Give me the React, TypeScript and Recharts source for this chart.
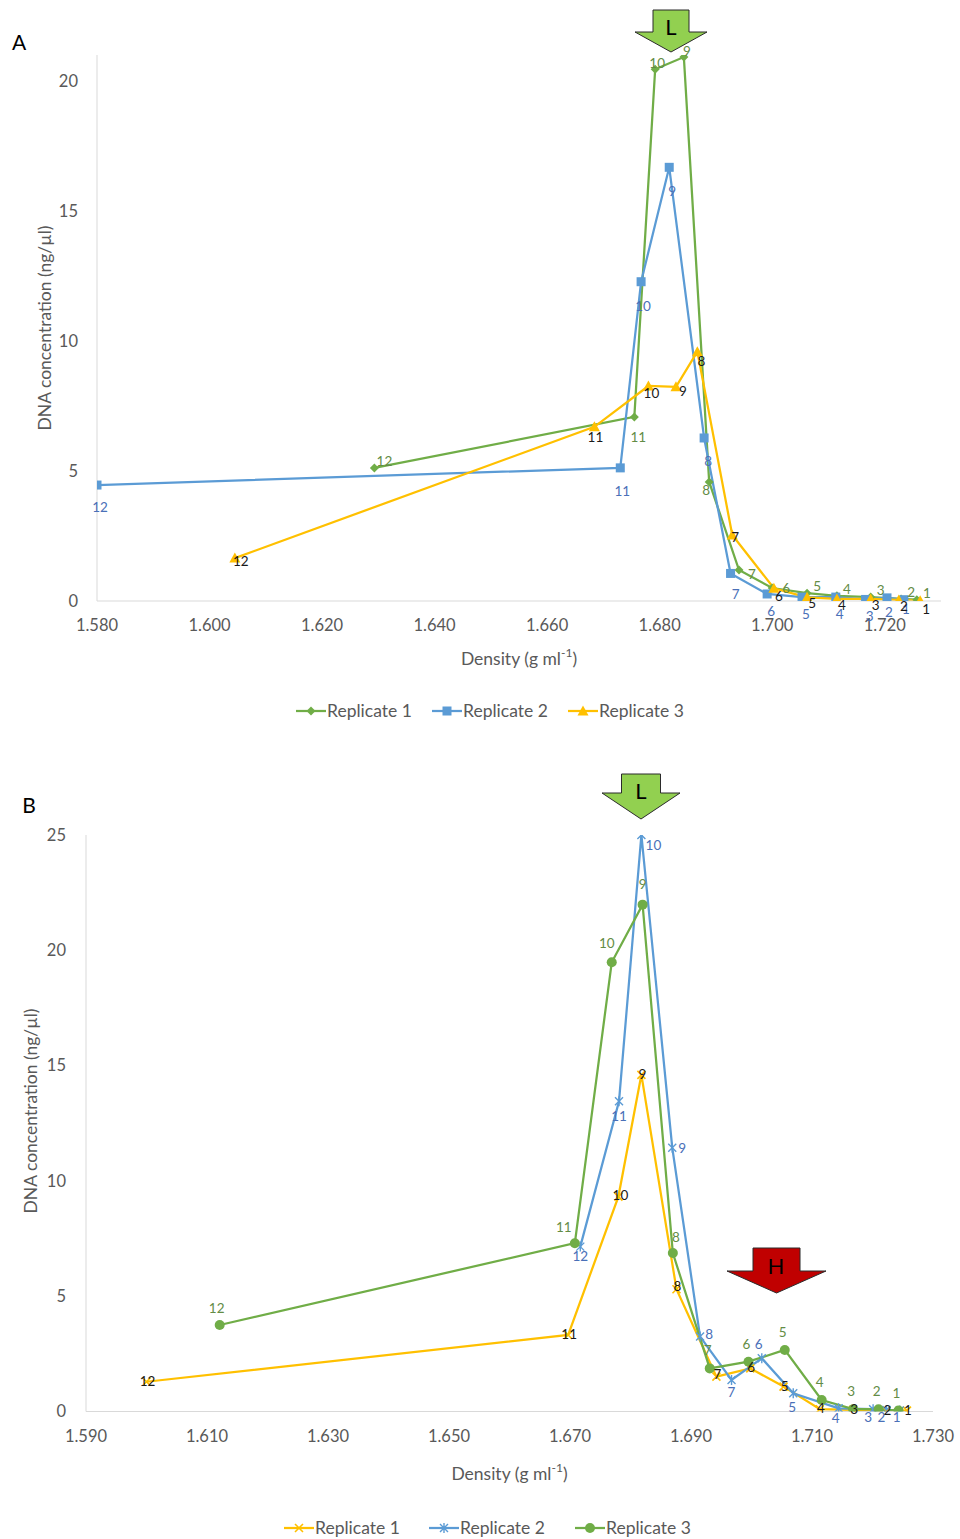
import React from 'react';
import { LineChart, Line, XAxis, YAxis, LabelList, Label } from 'recharts';

// ---------- DATA ----------
const fractions = [12, 11, 10, 9, 8, 7, 6, 5, 4, 3, 2, 1];

// Panel A
const aDensityRep1 = [1.6293, 1.6755, 1.6792, 1.6843, 1.6888, 1.6941, 1.7, 1.7062, 1.7115, 1.7175, 1.7229, 1.7257];
const aConcRep1 = [5.12, 7.08, 20.45, 20.92, 4.58, 1.19, 0.5, 0.3, 0.2, 0.15, 0.08, 0.05];
const aDensityRep2 = [1.58, 1.673, 1.6767, 1.6817, 1.6879, 1.6926, 1.6991, 1.7053, 1.7113, 1.7166, 1.7204, 1.7234];
const aConcRep2 = [4.46, 5.12, 12.28, 16.68, 6.27, 1.06, 0.27, 0.15, 0.15, 0.06, 0.12, 0.05];
const aDensityRep3 = [1.6045, 1.6684, 1.678, 1.6829, 1.6867, 1.6929, 1.7003, 1.7062, 1.7115, 1.7175, 1.7225, 1.7263];
const aConcRep3 = [1.65, 6.7, 8.27, 8.24, 9.59, 2.54, 0.49, 0.14, 0.08, 0.08, 0.04, 0.01];
const aXTicks = [1.58, 1.6, 1.62, 1.64, 1.66, 1.68, 1.7, 1.72];
const aYTicks = [0, 5, 10, 15, 20];

// Panel B
const bDensityRep1 = [1.6, 1.6697, 1.678, 1.6818, 1.6876, 1.6942, 1.6998, 1.7053, 1.7113, 1.7168, 1.7223, 1.7257];
const bConcRep1 = [1.29, 3.32, 9.32, 14.6, 5.3, 1.51, 1.87, 1.08, 0.1, 0.07, 0.04, 0.04];
const bDensityRep2 = [1.6717, 1.6781, 1.6818, 1.6869, 1.6915, 1.6967, 1.7017, 1.7069, 1.7144, 1.7201, 1.7223, 1.7245];
const bConcRep2 = [7.15, 13.45, 25.0, 11.44, 3.25, 1.37, 2.31, 0.79, 0.14, 0.1, 0.06, 0.04];
const bDensityRep3 = [1.6121, 1.6708, 1.6769, 1.682, 1.687, 1.6931, 1.6995, 1.7055, 1.7116, 1.7168, 1.721, 1.7243];
const bConcRep3 = [3.75, 7.3, 19.48, 21.98, 6.87, 1.87, 2.16, 2.67, 0.5, 0.1, 0.1, 0.04];
const bXTicks = [1.59, 1.61, 1.63, 1.65, 1.67, 1.69, 1.71, 1.73];
const bYTicks = [0, 5, 10, 15, 20, 25];

const seriesNames = ['Replicate 1', 'Replicate 2', 'Replicate 3'];

// ---------- STYLE ----------
const FONT = 'Lato, "Open Sans", sans-serif';
const GREEN = '#70AD47';
const BLUE = '#5B9BD5';
const YELLOW = '#FFC000';
const GREEN_TXT = '#638C45';
const BLUE_TXT = '#4A70B8';
const BLACK_TXT = '#1a1a1a';
const AXIS_TXT = '#595959';
const AXIS_LINE = '#D9D9D9';

const build = (xs: number[], ys: number[]) => xs.map((x, i) => ({ x, y: ys[i], f: fractions[i] }));

type Shape = 'diamond' | 'square' | 'triangle' | 'xmark' | 'star' | 'circle';

const markerEl = (shape: Shape, cx: number, cy: number, color: string, key?: string) => {
  switch (shape) {
    case 'diamond':
      return <path key={key} d={`M${cx},${cy - 4.5}L${cx + 4.5},${cy}L${cx},${cy + 4.5}L${cx - 4.5},${cy}Z`} fill={color} />;
    case 'square':
      return <rect key={key} x={cx - 4.5} y={cy - 4.5} width={9} height={9} fill={color} />;
    case 'triangle':
      return <path key={key} d={`M${cx},${cy - 5.5}L${cx + 5.5},${cy + 4.5}L${cx - 5.5},${cy + 4.5}Z`} fill={color} />;
    case 'xmark':
      return (
        <path key={key} d={`M${cx - 4},${cy - 4}L${cx + 4},${cy + 4}M${cx - 4},${cy + 4}L${cx + 4},${cy - 4}`} stroke={color} strokeWidth={1.6} fill="none" />
      );
    case 'star':
      return (
        <path key={key} d={`M${cx - 4},${cy - 4}L${cx + 4},${cy + 4}M${cx - 4},${cy + 4}L${cx + 4},${cy - 4}M${cx},${cy - 5}L${cx},${cy + 5}`} stroke={color} strokeWidth={1.4} fill="none" />
      );
    case 'circle':
    default:
      return <circle key={key} cx={cx} cy={cy} r={5} fill={color} />;
  }
};

const makeDot = (shape: Shape, color: string) => (props: any) => {
  const { cx, cy, index } = props;
  if (cx == null || cy == null) return <g key={`e-${index}`} />;
  return markerEl(shape, cx, cy, color, `d-${shape}-${index}`);
};

type Off = [number, number];
const makeLabel = (color: string, def: Off, overrides: Record<number, Off>) => (props: any) => {
  const { x, y, value, index } = props;
  if (x == null || y == null) return null;
  const o = overrides[value] || def;
  return (
    <text key={`l-${index}`} x={x + o[0]} y={y + o[1]} textAnchor="middle" dominantBaseline="central" fill={color} fontSize={13.5} fontFamily={FONT}>
      {value}
    </text>
  );
};

const yTitle = (cxOff: number, cy: number) => (props: any) => {
  const vb = props.viewBox || {};
  const x = (vb.x || 0) + cxOff;
  return (
    <text x={x} y={cy} transform={`rotate(-90 ${x} ${cy})`} textAnchor="middle" dominantBaseline="central" fill={AXIS_TXT} fontSize={17.5} fontFamily={FONT}>
      DNA concentration (ng/µl)
    </text>
  );
};

const xTitle = (dy: number) => (props: any) => {
  const vb = props.viewBox || {};
  const x = (vb.x || 0) + (vb.width || 0) / 2;
  const y = (vb.y || 0) + dy;
  return (
    <text x={x} y={y} textAnchor="middle" dominantBaseline="central" fill={AXIS_TXT} fontSize={17.5} fontFamily={FONT}>
      Density (g ml
      <tspan fontSize={12} dy={-6}>-1</tspan>
      <tspan dy={6}>)</tspan>
    </text>
  );
};

const tickStyle = { fill: AXIS_TXT, fontSize: 16.5, fontFamily: FONT };

const LegendItem = ({ left, shape, color, label }: { left: number; shape: Shape; color: string; label: string }) => (
  <div style={{ position: 'absolute', left, top: 0, display: 'flex', alignItems: 'center', height: 20 }}>
    <svg width={30} height={20} style={{ display: 'block' }}>
      <line x1={0} y1={10} x2={30} y2={10} stroke={color} strokeWidth={2.25} />
      {markerEl(shape, 15, 10, color)}
    </svg>
    <span style={{ marginLeft: 1, fontFamily: FONT, fontSize: 17.5, color: AXIS_TXT, whiteSpace: 'nowrap', lineHeight: '20px' }}>{label}</span>
  </div>
);

const downArrow = (cx: number, top: number, headY: number, tip: number, shaftHalf: number, headHalf: number) =>
  `M${cx - shaftHalf},${top}L${cx + shaftHalf},${top}L${cx + shaftHalf},${headY}L${cx + headHalf},${headY}L${cx},${tip}L${cx - headHalf},${headY}L${cx - shaftHalf},${headY}Z`;

export default function App() {
  const aR1 = build(aDensityRep1, aConcRep1);
  const aR2 = build(aDensityRep2, aConcRep2);
  const aR3 = build(aDensityRep3, aConcRep3);
  const bR1 = build(bDensityRep1, bConcRep1);
  const bR2 = build(bDensityRep2, bConcRep2);
  const bR3 = build(bDensityRep3, bConcRep3);

  const lineW = 2.25;

  return (
    <div style={{ position: 'absolute', left: 0, top: 0, width: 960, height: 1539, background: '#fff', overflow: 'hidden' }}>
      {/* Panel A */}
      <div style={{ position: 'absolute', left: 0, top: 0 }}>
        <LineChart width={960} height={690} margin={{ top: 55, right: 19, left: 37, bottom: 59 }}>
          <XAxis
            type="number"
            dataKey="x"
            domain={[1.58, 1.73]}
            ticks={aXTicks}
            allowDataOverflow
            tickFormatter={(v: number) => v.toFixed(3)}
            tick={tickStyle}
            tickLine={false}
            tickSize={0}
            tickMargin={18}
            stroke={AXIS_LINE}
            height={30}
          >
            <Label content={xTitle(57)} />
          </XAxis>
          <YAxis
            type="number"
            domain={[0, 21]}
            ticks={aYTicks}
            allowDataOverflow
            tick={tickStyle}
            tickLine={false}
            tickSize={0}
            tickMargin={19}
            stroke={AXIS_LINE}
            width={60}
          >
            <Label content={yTitle(7, 328)} />
          </YAxis>
          <Line data={aR1} dataKey="y" name={seriesNames[0]} stroke={GREEN} strokeWidth={lineW} dot={makeDot('diamond', GREEN)} activeDot={false} isAnimationActive={false}>
            <LabelList dataKey="f" content={makeLabel(GREEN_TXT, [10, -7], { 11: [4, 20], 8: [-3, 8], 10: [2, -6], 9: [3, -6], 7: [13, 4], 6: [14, 0] })} />
          </Line>
          <Line data={aR2} dataKey="y" name={seriesNames[1]} stroke={BLUE} strokeWidth={lineW} dot={makeDot('square', BLUE)} activeDot={false} isAnimationActive={false}>
            <LabelList dataKey="f" content={makeLabel(BLUE_TXT, [4, 17], { 12: [3, 22], 11: [2, 23], 10: [2, 24], 9: [3, 24], 8: [4, 23], 7: [5, 21], 2: [2, 14], 1: [2, 9] })} />
          </Line>
          <Line data={aR3} dataKey="y" name={seriesNames[2]} stroke={YELLOW} strokeWidth={lineW} dot={makeDot('triangle', YELLOW)} activeDot={false} isAnimationActive={false}>
            <LabelList dataKey="f" content={makeLabel(BLACK_TXT, [5, 6], { 12: [6, 3], 11: [1, 10], 10: [3, 7], 9: [7, 4], 8: [4, 9], 7: [3, 2], 6: [5, 8], 1: [6, 8] })} />
          </Line>
        </LineChart>
      </div>

      {/* Panel B */}
      <div style={{ position: 'absolute', left: 0, top: 760 }}>
        <LineChart width={960} height={740} margin={{ top: 75, right: 27, left: 26, bottom: 58.5 }}>
          <XAxis
            type="number"
            dataKey="x"
            domain={[1.59, 1.73]}
            ticks={bXTicks}
            allowDataOverflow
            tickFormatter={(v: number) => v.toFixed(3)}
            tick={tickStyle}
            tickLine={false}
            tickSize={0}
            tickMargin={19}
            stroke={AXIS_LINE}
            height={30}
          >
            <Label content={xTitle(61.5)} />
          </XAxis>
          <YAxis
            type="number"
            domain={[0, 25]}
            ticks={bYTicks}
            allowDataOverflow
            tick={tickStyle}
            tickLine={false}
            tickSize={0}
            tickMargin={20}
            stroke={AXIS_LINE}
            width={60}
          >
            <Label content={yTitle(4, 1111 - 760)} />
          </YAxis>
          <Line data={bR1} dataKey="y" name={seriesNames[0]} stroke={YELLOW} strokeWidth={lineW} dot={makeDot('xmark', YELLOW)} activeDot={false} isAnimationActive={false}>
            <LabelList dataKey="f" content={makeLabel(BLACK_TXT, [1, -1], { 10: [2, -2], 8: [1, -3], 7: [1, -3] })} />
          </Line>
          <Line data={bR2} dataKey="y" name={seriesNames[1]} stroke={BLUE} strokeWidth={lineW} dot={makeDot('star', BLUE)} activeDot={false} isAnimationActive={false}>
            <LabelList dataKey="f" content={makeLabel(BLUE_TXT, [0, 12], { 12: [0, 9], 11: [0, 15], 10: [12, 10], 9: [10, 0], 8: [9, -3], 6: [-3, -14], 5: [-1, 14], 4: [-3, 10], 3: [-5, 8], 2: [-5, 7], 1: [-3, 6] })} />
          </Line>
          <Line data={bR3} dataKey="y" name={seriesNames[2]} stroke={GREEN} strokeWidth={lineW} dot={makeDot('circle', GREEN)} activeDot={false} isAnimationActive={false}>
            <LabelList dataKey="f" content={makeLabel(GREEN_TXT, [-2, -18], { 11: [-11, -16], 10: [-5, -19], 9: [0, -21], 8: [3, -16], 12: [-3, -17] })} />
          </Line>
        </LineChart>
      </div>

      {/* Legends */}
      <div style={{ position: 'absolute', left: 0, top: 701, width: 960, height: 20 }}>
        <LegendItem left={296} shape="diamond" color={GREEN} label={seriesNames[0]} />
        <LegendItem left={432} shape="square" color={BLUE} label={seriesNames[1]} />
        <LegendItem left={568} shape="triangle" color={YELLOW} label={seriesNames[2]} />
      </div>
      <div style={{ position: 'absolute', left: 0, top: 1518, width: 960, height: 20 }}>
        <LegendItem left={284} shape="xmark" color={YELLOW} label={seriesNames[0]} />
        <LegendItem left={429} shape="star" color={BLUE} label={seriesNames[1]} />
        <LegendItem left={575} shape="circle" color={GREEN} label={seriesNames[2]} />
      </div>

      {/* Annotations: panel letters and arrows */}
      <svg width={960} height={1539} style={{ position: 'absolute', left: 0, top: 0, pointerEvents: 'none' }}>
        <text x={19} y={41} textAnchor="middle" dominantBaseline="central" fontFamily={FONT} fontSize={21} fill="#000">A</text>
        <text x={29} y={804} textAnchor="middle" dominantBaseline="central" fontFamily={FONT} fontSize={21} fill="#000">B</text>

        <path d={downArrow(671, 10, 32, 52, 18, 36)} fill="#92D050" stroke="#2b2b2b" strokeWidth={1} />
        <text x={671} y={26} textAnchor="middle" dominantBaseline="central" fontFamily={FONT} fontSize={22} fill="#000">L</text>

        <path d={downArrow(641, 774, 793, 819, 19.5, 39)} fill="#92D050" stroke="#2b2b2b" strokeWidth={1} />
        <text x={641} y={790} textAnchor="middle" dominantBaseline="central" fontFamily={FONT} fontSize={22} fill="#000">L</text>

        <path d={downArrow(776.5, 1248, 1271, 1293, 23.5, 49.5)} fill="#C00000" stroke="#2b2b2b" strokeWidth={1} />
        <text x={776} y={1265} textAnchor="middle" dominantBaseline="central" fontFamily={FONT} fontSize={22} fill="#000">H</text>
      </svg>
    </div>
  );
}
